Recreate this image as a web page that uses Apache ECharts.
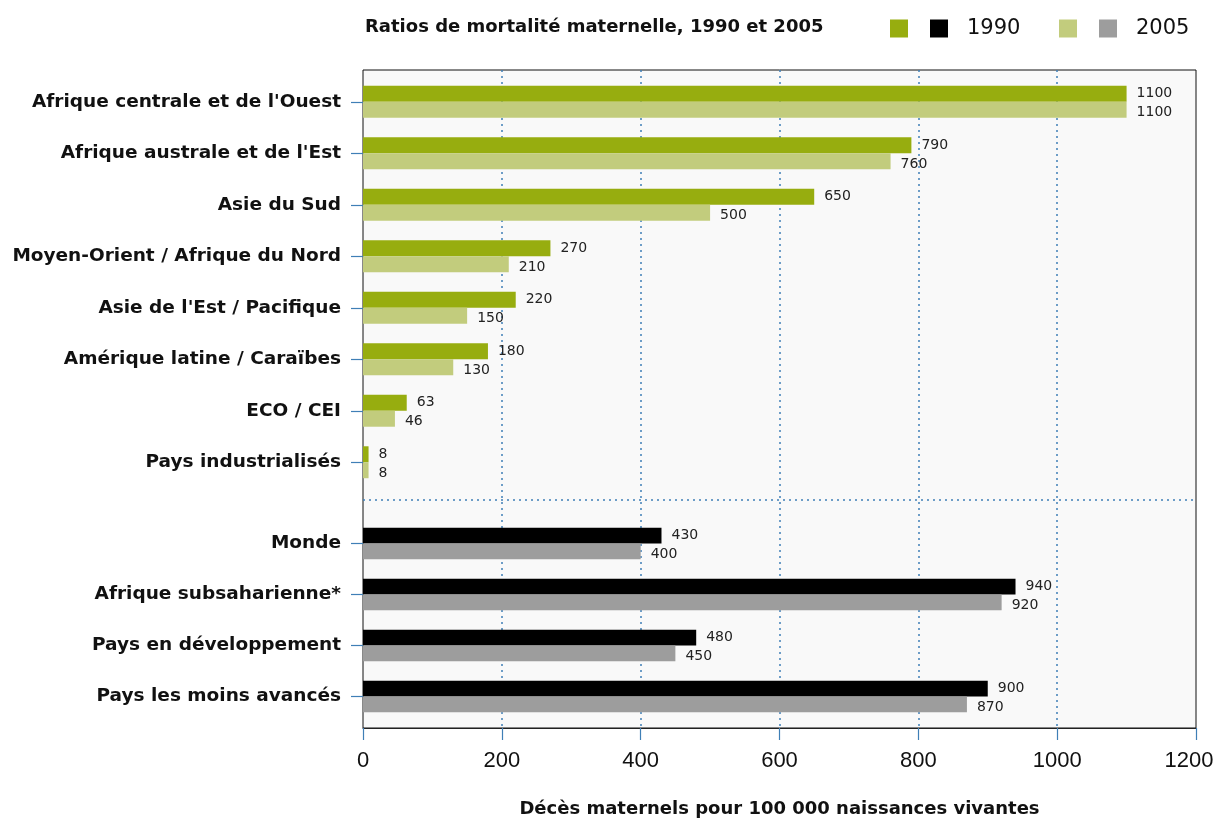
<!DOCTYPE html>
<html>
<head>
<meta charset="utf-8">
<script src="https://cdn.jsdelivr.net/npm/echarts@6/dist/echarts.min.js"></script>
<style>
html, body { margin: 0; padding: 0; background: #fff; }
#chart { width: 1216px; height: 821px; }
</style>
</head>
<body>
<div id="chart"></div>
<script>
// régions (partie haute)
const regionNames = ["Afrique centrale et de l'Ouest", "Afrique australe et de l'Est", 'Asie du Sud',
    'Moyen-Orient / Afrique du Nord', "Asie de l'Est / Pacifique", 'Amérique latine / Caraïbes',
    'ECO / CEI', 'Pays industrialisés'];
const regions1990 = [1100, 790, 650, 270, 220, 180, 63, 8];
const regions2005 = [1100, 760, 500, 210, 150, 130, 46, 8];
// agrégats (partie basse)
const groupNames = ['Monde', 'Afrique subsaharienne*', 'Pays en développement', 'Pays les moins avancés'];
const groups1990 = [430, 940, 480, 900];
const groups2005 = [400, 920, 450, 870];
const xTicks = [0, 200, 400, 600, 800, 1000, 1200];

const blue = '#3f7fb6';
const font = 'DejaVu Sans';

const chart = echarts.init(document.getElementById('chart'));

function barSeries(name, data, color, idx, down) {
    return {
        name: name,
        type: 'bar',
        xAxisIndex: idx,
        yAxisIndex: idx,
        data: data,
        barGap: '0%',
        barCategoryGap: '38%',
        itemStyle: { color: color },
        label: {
            show: true,
            position: 'right',
            distance: 10,
            offset: [0, down ? 3 : 0],
            color: '#222',
            fontFamily: font,
            fontSize: 14
        }
    };
}

function catAxis(idx, data) {
    return {
        type: 'category',
        gridIndex: idx,
        inverse: true,
        data: data,
        axisLine: { show: false },
        axisTick: { show: true, alignWithLabel: true, length: 12, lineStyle: { color: blue, width: 1.2 } },
        axisLabel: { margin: 22, color: '#111', fontFamily: font, fontWeight: 'bold', fontSize: 18.5 }
    };
}

function hiddenX(idx) {
    return { type: 'value', gridIndex: idx, min: 0, max: 1200, show: false };
}

const option = {
    animation: false,
    backgroundColor: '#fff',
    title: {
        text: 'Ratios de mortalité maternelle, 1990 et 2005',
        left: 360,
        top: 13,
        textStyle: { fontFamily: font, fontWeight: 'bold', fontSize: 18, color: '#111' }
    },
    legend: [{
        left: 885,
        top: 13,
        icon: 'rect',
        itemWidth: 18,
        itemHeight: 18,
        itemGap: 22,
        data: ['Régions 1990', 'Agrégats 1990'],
        formatter: n => n.indexOf('Agrégats') === 0 ? '1990' : '',
        textStyle: { fontFamily: font, fontSize: 21, color: '#111', padding: [0, 0, 0, 14] },
        selectedMode: false
    }, {
        left: 1054,
        top: 13,
        icon: 'rect',
        itemWidth: 18,
        itemHeight: 18,
        itemGap: 22,
        data: ['Régions 2005', 'Agrégats 2005'],
        formatter: n => n.indexOf('Agrégats') === 0 ? '2005' : '',
        textStyle: { fontFamily: font, fontSize: 21, color: '#111', padding: [0, 0, 0, 14] },
        selectedMode: false
    }],
    grid: [
        // cadre
        { left: 363, right: 20, top: 70, bottom: 93, outerBoundsMode: 'none', show: true, backgroundColor: '#f9f9f9', borderColor: '#111', borderWidth: 1 },
        // régions
        { left: 363, right: 20, top: 76, bottom: 333, outerBoundsMode: 'none' },
        // agrégats
        { left: 363, right: 20, top: 518, bottom: 99, outerBoundsMode: 'none' }
    ],
    xAxis: [{
        type: 'value',
        gridIndex: 0,
        min: 0,
        max: 1200,
        interval: 200,
        axisLine: { show: true, lineStyle: { color: '#222', width: 1 } },
        axisTick: { show: true, length: 12, lineStyle: { color: blue, width: 1.2 } },
        axisLabel: {
            margin: 22,
            color: '#111',
            fontFamily: 'Liberation Sans',
            fontSize: 22,
            formatter: v => {
                if (xTicks.indexOf(v) < 0) return '';
                return v === 1200 ? '{last|' + v + '}' : String(v);
            },
            rich: {
                last: { fontFamily: 'Liberation Sans', fontSize: 22, color: '#111', padding: [0, 14, 0, 0] }
            }
        },
        splitLine: { show: true, showMinLine: false, showMaxLine: false, lineStyle: { color: blue, type: [2, 4], width: 1.5 } },
        name: 'Décès maternels pour 100 000 naissances vivantes',
        nameLocation: 'middle',
        nameGap: 72,
        nameTextStyle: { fontFamily: font, fontWeight: 'bold', fontSize: 18, color: '#111' }
    }, hiddenX(1), hiddenX(2)],
    yAxis: [
        { type: 'value', gridIndex: 0, show: false, min: 0, max: 1 },
        catAxis(1, regionNames),
        catAxis(2, groupNames)
    ],
    graphic: [{
        type: 'line',
        shape: { x1: 363, y1: 500, x2: 1196, y2: 500 },
        style: { stroke: blue, lineWidth: 1.5, lineDash: [2, 4] },
        z: 10
    }],
    series: [
        barSeries('Régions 1990', regions1990, '#97ad0f', 1, false),
        barSeries('Régions 2005', regions2005, '#c2cc7d', 1, true),
        barSeries('Agrégats 1990', groups1990, '#000000', 2, false),
        barSeries('Agrégats 2005', groups2005, '#9d9d9d', 2, true)
    ]
};

chart.setOption(option);
window.addEventListener('resize', () => { chart.resize(); });
</script>
</body>
</html>
